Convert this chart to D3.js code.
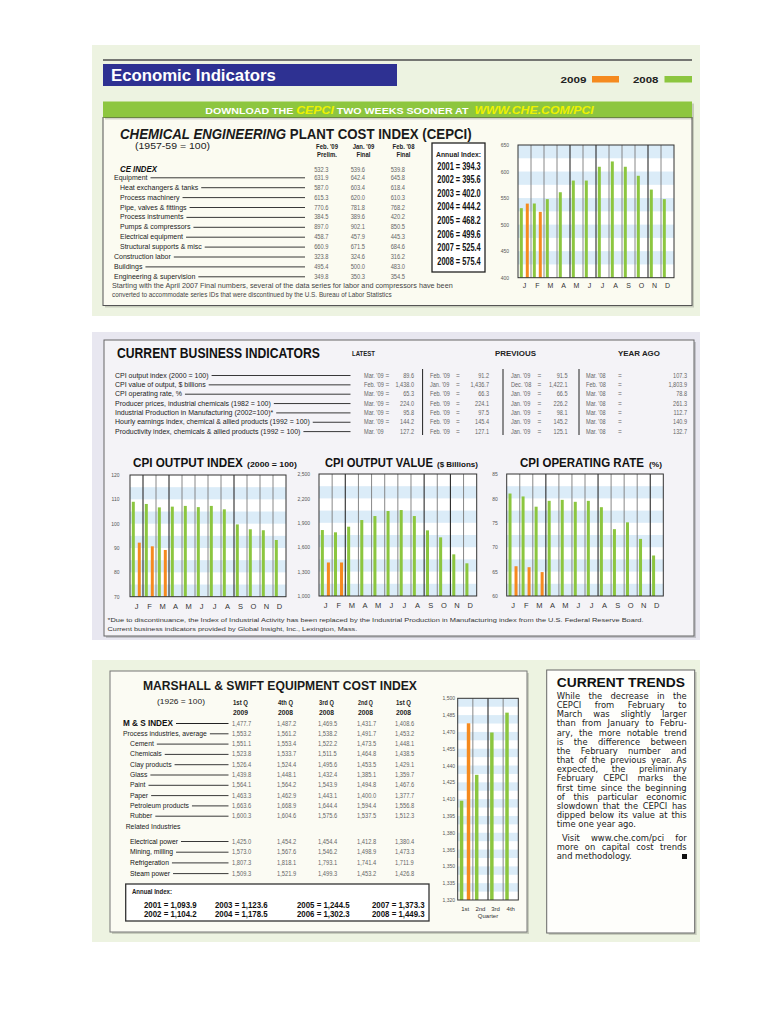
<!DOCTYPE html>
<html><head><meta charset="utf-8">
<script src="https://cdn.jsdelivr.net/npm/d3@7/dist/d3.min.js"></script>
<style>html,body{margin:0;padding:0;background:#fff}svg{display:block}text{white-space:pre}</style>
</head><body>
<svg id="chart" width="768" height="1024"></svg>
<script>
// ================= DATA =================
const months = ["J","F","M","A","M","J","J","A","S","O","N","D"];
const quarters = ["1st","2nd","3rd","4th"];

// CEPCI monthly chart
const cepci2008 = [531, 539.8, 548, 561, 583, 583, 609, 619, 609, 592, 566, 548];
const cepci2009 = [539.6, 524];
const cepciTicks = [400, 450, 500, 550, 600, 650];

// CPI output index
const cpiIndex2008 = [109, 108.1, 106.7, 107, 107.3, 106.8, 107.3, 105.9, 99.7, 97.7, 97.3, 93.3];
const cpiIndex2009 = [92.2, 90.7, 89.2];
const cpiIndexTicks = [70, 80, 90, 100, 110, 120];

// CPI output value ($ billions)
const cpiValue2008 = [1811, 1783, 1852, 1934, 1983, 2045, 2057, 1983, 1807, 1721, 1512, 1402];
const cpiValue2009 = [1412, 1412];
const cpiValueTicks = [1000, 1300, 1600, 1900, 2200, 2500];

// CPI operating rate (%)
const cpiRate2008 = [81.0, 80.4, 78.3, 79.5, 79.7, 79.3, 79.5, 78.2, 73.7, 75.1, 71.7, 68.3];
const cpiRate2009 = [66.1, 65.9, 64.9];
const cpiRateTicks = [60, 65, 70, 75, 80, 85];

// Marshall & Swift quarterly chart
const ms2008 = [1408.6, 1431.7, 1469.5, 1487.2];
const ms2009 = [1477.7];
const msTicks = [1320, 1335, 1350, 1365, 1380, 1395, 1410, 1425, 1440, 1455, 1470, 1485, 1500];

// CEPCI table
const cepciRows = ["CE INDEX","Equipment","Heat exchangers & tanks","Process machinery","Pipe, valves & fittings","Process instruments","Pumps & compressors","Electrical equipment","Structural supports & misc","Construction labor","Buildings","Engineering & supervision"];
const cepciIndent = [1,0,1,1,1,1,1,1,1,0,0,0];
const cepciFeb09 = ["532.3","631.9","587.0","615.3","770.6","384.5","897.0","458.7","660.9","323.8","495.4","349.8"];
const cepciJan09 = ["539.6","642.4","603.4","620.0","781.8","389.6","902.1","457.9","671.5","324.6","500.0","350.3"];
const cepciFeb08 = ["539.8","645.8","618.4","610.3","768.2","420.2","850.5","445.3","684.6","316.2","483.0","354.5"];
const cepciHead1 = ["Feb. '09","Jan. '09","Feb. '08"];
const cepciHead2 = ["Prelim.","Final","Final"];
const cepciAnnual = ["2001 = 394.3","2002 = 395.6","2003 = 402.0","2004 = 444.2","2005 = 468.2","2006 = 499.6","2007 = 525.4","2008 = 575.4"];

// Current business indicators
const cbiLabels = ["CPI output index (2000 = 100)","CPI value of output, $ billions","CPI operating rate, %","Producer prices, industrial chemicals (1982 = 100)","Industrial Production in Manufacturing (2002=100)*","Hourly earnings index, chemical & allied products (1992 = 100)","Productivity index, chemicals & allied products (1992 = 100)"];
const cbiLatestDate = ["Mar. '09","Feb. '09","Mar. '09","Mar. '09","Mar. '09","Mar. '09","Mar. '09"];
const cbiLatestVal = ["89.6","1,438.0","65.3","224.0","95.8","144.2","127.2"];
const cbiPrev1Date = ["Feb. '09","Jan. '09","Feb. '09","Feb. '09","Feb. '09","Feb. '09","Feb. '09"];
const cbiPrev1Val = ["91.2","1,436.7","66.3","224.1","97.5","145.4","127.1"];
const cbiPrev2Date = ["Jan. '09","Dec. '08","Jan. '09","Jan. '09","Jan. '09","Jan. '09","Jan. '09"];
const cbiPrev2Val = ["91.5","1,422.1","66.5","226.2","98.1","145.2","125.1"];
const cbiYearDate = ["Mar. '08","Feb. '08","Mar. '08","Mar. '08","Mar. '08","Mar. '08","Mar. '08"];
const cbiYearVal = ["107.3","1,803.9","78.8","261.3","112.7","140.9","132.7"];

// Marshall & Swift table
const msHead1 = ["1st Q","4th Q","3rd Q","2nd Q","1st Q"];
const msHead2 = ["2009","2008","2008","2008","2008"];
const msRows = ["M & S INDEX","Process industries, average","Cement","Chemicals","Clay products","Glass","Paint","Paper","Petroleum products","Rubber"];
const msIndent = [0,0,1,1,1,1,1,1,1,1];
const msValues = [
  ["1,477.7","1,487.2","1,469.5","1,431.7","1,408.6"],
  ["1,553.2","1,561.2","1,538.2","1,491.7","1,453.2"],
  ["1,551.1","1,553.4","1,522.2","1,473.5","1,448.1"],
  ["1,523.8","1,533.7","1,511.5","1,464.8","1,438.5"],
  ["1,526.4","1,524.4","1,495.6","1,453.5","1,429.1"],
  ["1,439.8","1,448.1","1,432.4","1,385.1","1,359.7"],
  ["1,564.1","1,564.2","1,543.9","1,494.8","1,467.6"],
  ["1,463.3","1,462.9","1,443.1","1,400.0","1,377.7"],
  ["1,663.6","1,668.9","1,644.4","1,594.4","1,556.8"],
  ["1,600.3","1,604.6","1,575.6","1,537.5","1,512.3"]
];
const msRelRows = ["Electrical power","Mining, milling","Refrigeration","Steam power"];
const msRelValues = [
  ["1,425.0","1,454.2","1,454.4","1,412.8","1,380.4"],
  ["1,573.0","1,567.6","1,546.2","1,498.9","1,473.3"],
  ["1,807.3","1,818.1","1,793.1","1,741.4","1,711.9"],
  ["1,509.3","1,521.9","1,499.3","1,453.2","1,426.8"]
];
const msAnnual = [["2001 = 1,093.9","2003 = 1,123.6","2005 = 1,244.5","2007 = 1,373.3"],["2002 = 1,104.2","2004 = 1,178.5","2006 = 1,302.3","2008 = 1,449.3"]];

// Current trends text
const trendsPara1 = ["While the decrease in the","CEPCI from February to","March was slightly larger","than from January to Febru-","ary, the more notable trend","is the difference between","the February number and","that of the previous year. As","expected, the preliminary","February CEPCI marks the","first time since the beginning","of this particular economic","slowdown that the CEPCI has","dipped below its value at this","time one year ago."];
const trendsPara2 = ["Visit www.che.com/pci for","more on capital cost trends","and methodology."];

// ================= DRAWING =================
const svg = d3.select("#chart");
const FONT = "'Liberation Sans', Arial, Helvetica, sans-serif";
const FONT2 = "'DejaVu Sans', 'Liberation Sans', sans-serif";
const GREEN = "#8cc63f", ORANGE = "#f58a1f", STRIPE = "#dbecf8";

function box(g,x,y,w,h,fill,stroke,sw){
  const r=g.append("rect").attr("x",x).attr("y",y).attr("width",w).attr("height",h).attr("fill",fill||"none");
  if(stroke) r.attr("stroke",stroke).attr("stroke-width",sw||1);
  return r;
}
function line(g,x1,y1,x2,y2,stroke,sw){
  return g.append("line").attr("x1",x1).attr("y1",y1).attr("x2",x2).attr("y2",y2).attr("stroke",stroke||"#222").attr("stroke-width",sw||1);
}
// text placed in its own group; horizontal squeeze done with a scale transform
function T(g,x,y,s,o={}){
  const gg=g.append("g").attr("transform",`translate(${x},${y})`);
  const t=gg.append("text").attr("x",0).attr("y",0).text(s)
    .attr("font-family",o.ff||FONT).attr("font-size",o.fs||7)
    .attr("font-weight",o.fw||"normal").attr("fill",o.fill||"#222")
    .attr("text-anchor",o.anchor||"start");
  if(o.it) t.attr("font-style","italic");
  if(o.len||o.sq){
    const L=t.node().getComputedTextLength();
    const sx=o.len?o.len/L:o.sq;
    gg.attr("transform",`translate(${x},${y}) scale(${sx},1)`);
  }
  return t;
}
function R(g,x,y,parts,o={}){
  const gg=g.append("g").attr("transform",`translate(${x},${y})`);
  const t=gg.append("text").attr("x",0).attr("y",0).attr("font-family",FONT)
    .attr("text-anchor",o.anchor||"start").attr("font-weight",o.fw||"bold")
    .attr("font-size",o.fs||9).attr("fill",o.fill||"#222");
  parts.forEach(([s,p])=>{const ts=t.append("tspan").text(s);
    if(p){ if(p.fs) ts.attr("font-size",p.fs); if(p.fill) ts.attr("fill",p.fill); if(p.it) ts.attr("font-style","italic"); if(p.fw) ts.attr("font-weight",p.fw);} });
  if(o.len){
    const L=t.node().getComputedTextLength();
    gg.attr("transform",`translate(${x},${y}) scale(${o.len/L},1)`);
  }
  return t;
}
function justify(g,x,y,s,width,o){
  const t=T(g,x,y,s,o);
  if(width){
    const L=t.node().getComputedTextLength();
    const n=(s.match(/ /g)||[]).length;
    if(n>0 && L<width) t.attr("word-spacing",(width-L)/n);
    else if(L>width) d3.select(t.node().parentNode).attr("transform",`translate(${x},${y}) scale(${width/L},1)`);
  }
  return t;
}
function shadowBox(g,x,y,w,h,fill,stroke){
  box(g,x+2,y+2,w,h,"rgba(0,0,0,0.16)");
  return box(g,x,y,w,h,fill,stroke,1);
}

function barChart(g,o){
  const n=o.cats.length;
  const x=d3.scaleBand().domain(d3.range(n)).range([o.x0,o.x1]);
  const lo=o.ticks[0], hi=o.ticks[o.ticks.length-1];
  const y=d3.scaleLinear().domain([lo,hi]).range([o.y1,o.y0]);
  box(g,o.x0,o.y0,o.x1-o.x0,o.y1-o.y0,"#fff");
  const bands=[];
  for(let i=0;i<o.ticks.length-1;i++){const a=o.ticks[i],b=o.ticks[i+1],m=(a+b)/2;bands.push(o.upper?[m,b]:[a,m]);}
  g.selectAll(null).data(bands).join("rect").attr("x",o.x0).attr("width",o.x1-o.x0)
    .attr("y",d=>y(d[1])).attr("height",d=>y(d[0])-y(d[1])).attr("fill",STRIPE);
  g.selectAll(null).data(d3.range(1,n)).join("line")
    .attr("x1",i=>x(i)).attr("x2",i=>x(i)).attr("y1",o.y0).attr("y2",o.y1)
    .attr("stroke",i=>o.dark.includes(i)?"#2a2a2a":"#7a7a7a").attr("stroke-width",i=>o.dark.includes(i)?1.1:0.9);
  const bw=x.bandwidth();
  g.selectAll(null).data(o.s08).join("rect")
    .attr("x",(d,i)=>x(i)+bw*0.14).attr("width",bw*0.23)
    .attr("y",d=>y(d)).attr("height",d=>y(lo)-y(d)).attr("fill",GREEN);
  g.selectAll(null).data(o.s09).join("rect")
    .attr("x",(d,i)=>x(i)+bw*0.6).attr("width",bw*0.23)
    .attr("y",d=>y(d)).attr("height",d=>y(lo)-y(d)).attr("fill",ORANGE);
  box(g,o.x0,o.y0,o.x1-o.x0,o.y1-o.y0,"none","#333",1);
  const ya=g.append("g").attr("transform",`translate(${o.x0},0)`)
    .call(d3.axisLeft(y).tickValues(o.ticks).tickSize(0).tickPadding(o.tp));
  ya.select(".domain").remove();
  ya.selectAll("text").attr("font-size",o.yfs||5).attr("font-family",FONT).attr("fill","#555");
  const xa=g.append("g").attr("transform",`translate(0,${o.y1})`)
    .call(d3.axisBottom(x).tickFormat(i=>o.cats[i]).tickSize(0).tickPadding(o.xp));
  xa.select(".domain").remove();
  xa.selectAll("text").attr("font-size",o.xfs).attr("font-family",FONT).attr("fill","#333");
  return {x,y};
}

// ---------- TOP PANEL ----------
const gTop=svg.append("g");
box(gTop,92,45,608,271,"#edf3e1");
line(gTop,103,60,692,60,"#4d4d4d",1.5);
box(gTop,103,64,294,22,"#2e3192");
T(gTop,111,81,"Economic Indicators",{fs:16,fw:"bold",fill:"#fff",len:165});
T(gTop,560.5,82.5,"2009",{fs:9.5,fw:"bold",len:26});
box(gTop,592,76,27,6.5,ORANGE);
T(gTop,633,82.5,"2008",{fs:9.5,fw:"bold",len:25.5});
box(gTop,664.5,76,27.5,6.5,GREEN);

shadowBox(gTop,103,117.5,589,188,"#fbfbf1","#555");
box(gTop,105,103.5,589,16,"rgba(0,0,0,0.16)");
box(gTop,103,101.5,589,16,"#8dc63f");
R(gTop,399.5,113.5,[["DOWNLOAD THE "],["CEPCI",{fill:"#eef200",it:1,fs:11}],[" TWO WEEKS SOONER AT  "],["WWW.CHE.COM/PCI",{fill:"#eef200",it:1,fs:11}]],{anchor:"middle",fs:9.5,fill:"#fff",len:389});

R(gTop,120,138.5,[["CHEMICAL ENGINEERING",{it:1}],[" PLANT COST INDEX (CEPCI)"]],{fs:14,fill:"#1a1a1a",len:352});
T(gTop,135,148.5,"(1957-59 = 100)",{fs:8.5,len:75});
const cepciColC=[327,363.5,403.5], cepciColR=[328.5,365,405];
cepciHead1.forEach((h,i)=>{
  T(gTop,cepciColC[i],148.5,h,{fs:7,fw:"bold",anchor:"middle",sq:0.85});
  T(gTop,cepciColC[i],157,cepciHead2[i],{fs:7,fw:"bold",anchor:"middle",sq:0.85});
});
cepciRows.forEach((r,i)=>{
  const by = i===0 ? 171.5 : 179.8+9.9*(i-1);
  const lx = cepciIndent[i] ? 120 : 114;
  if(i===0){ T(gTop,lx,by,r,{fs:9.5,fw:"bold",it:1,fill:"#111",len:37}); }
  else {
    const t=T(gTop,lx,by,r,{fs:7,fill:"#222"});
    const L=t.node().getComputedTextLength();
    line(gTop,lx+L+3,by-2,305,by-2,"#222",0.9);
  }
  T(gTop,cepciColR[0],by,cepciFeb09[i],{fs:7,fill:"#666",anchor:"end",sq:0.82});
  T(gTop,cepciColR[1],by,cepciJan09[i],{fs:7,fill:"#666",anchor:"end",sq:0.82});
  T(gTop,cepciColR[2],by,cepciFeb08[i],{fs:7,fill:"#666",anchor:"end",sq:0.82});
});
box(gTop,432,143,53,129,"#fff","#222",1.3);
T(gTop,458.5,157,"Annual Index:",{fs:8,fw:"bold",anchor:"middle",len:45});
cepciAnnual.forEach((a,i)=>T(gTop,459,169.5+13.6*i,a,{fs:10,fw:"bold",anchor:"middle",len:43.5,fill:"#111"}));
T(gTop,112,287.5,"Starting with the April 2007 Final numbers, several of the data series for labor and compressors have been",{fs:6.5,fill:"#444",len:341});
T(gTop,112,296.5,"converted to accommodate series IDs that were discontinued by the U.S. Bureau of Labor Statistics",{fs:6.5,fill:"#444",len:280});

barChart(gTop,{cats:months,s08:cepci2008,s09:cepci2009,ticks:cepciTicks,x0:518,x1:674,y0:145,y1:277.7,upper:true,dark:[4,6,10],tp:9,xp:5.5,xfs:7});

// ---------- MIDDLE PANEL ----------
const gMid=svg.append("g");
box(gMid,92,332,608,308,"#e8e7f0");
shadowBox(gMid,104,340,590,296,"#f4f3f7","#666");
T(gMid,117,357.5,"CURRENT BUSINESS INDICATORS",{fs:14,fw:"bold",fill:"#111",len:203});
T(gMid,352,356,"LATEST",{fs:8,fw:"bold",len:23});
T(gMid,495,356,"PREVIOUS",{fs:8,fw:"bold",len:41});
T(gMid,618,356,"YEAR AGO",{fs:8,fw:"bold",len:42});
const cbiCols=[[364,387.5,414,cbiLatestDate,cbiLatestVal],[430,458,489,cbiPrev1Date,cbiPrev1Val],[511,539.5,567.5,cbiPrev2Date,cbiPrev2Val],[586,620,687,cbiYearDate,cbiYearVal]];
cbiLabels.forEach((lab,i)=>{
  const by=377.5+9.35*i;
  const t=T(gMid,115,by,lab,{fs:7,fill:"#222"});
  const L=t.node().getComputedTextLength();
  line(gMid,115+L+3,by-2,350.5,by-2,"#222",0.9);
  cbiCols.forEach(([dx,ex,vx,dates,vals],c)=>{
    T(gMid,dx,by,dates[i],{fs:6.8,fill:"#666",sq:0.82});
    if(!(c===0&&i===6)) T(gMid,ex,by,"=",{fs:6.5,fill:"#666",anchor:"middle"});
    T(gMid,vx,by,vals[i],{fs:6.8,fill:"#666",anchor:"end",sq:0.82});
  });
});
[422.6,503,579].forEach(x=>line(gMid,x,369,x,435,"#222",1));

R(gMid,133,467,[["CPI OUTPUT INDEX"]],{fs:13.5,fill:"#111",len:110});
T(gMid,247,467,"(2000 = 100)",{fs:8,fw:"bold",len:50,fill:"#111"});
R(gMid,325,467,[["CPI OUTPUT VALUE"]],{fs:13.5,fill:"#111",len:108});
T(gMid,437,467,"($ Billions)",{fs:7.5,fw:"bold",len:41,fill:"#111"});
R(gMid,520,467,[["CPI OPERATING RATE"]],{fs:13.5,fill:"#111",len:124});
T(gMid,649,467,"(%)",{fs:8,fw:"bold",len:13,fill:"#111"});

barChart(gMid,{cats:months,s08:cpiIndex2008,s09:cpiIndex2009,ticks:cpiIndexTicks,x0:130,x1:286,y0:475,y1:596.7,upper:false,dark:[1,3,8],tp:10.5,xp:6.5,xfs:7.5});
barChart(gMid,{cats:months,s08:cpiValue2008,s09:cpiValue2009,ticks:cpiValueTicks,x0:319,x1:476.7,y0:474,y1:596,upper:false,dark:[2,8,10],tp:9,xp:7,xfs:7.5});
barChart(gMid,{cats:months,s08:cpiRate2008,s09:cpiRate2009,ticks:cpiRateTicks,x0:506.7,x1:663.3,y0:474,y1:596,upper:false,dark:[3,7,11],tp:9,xp:7,xfs:7.5});

T(gMid,107.6,622,"*Due to discontinuance, the Index of Industrial Activity has been replaced by the Industrial Production in Manufacturing index from the U.S. Federal Reserve Board.",{fs:6,fill:"#333",len:537});
T(gMid,107.6,631,"Current business indicators provided by Global Insight, Inc., Lexington, Mass.",{fs:6,fill:"#333",len:250});

// ---------- BOTTOM PANEL ----------
const gBot=svg.append("g");
box(gBot,92,660,608,282,"#edf3e1");
shadowBox(gBot,110,671,417,261,"#fbfbf3","#777");
shadowBox(gBot,546.7,670,148,263,"#fefefb","#666");

T(gBot,143,690,"MARSHALL & SWIFT EQUIPMENT COST INDEX",{fs:13.5,fw:"bold",fill:"#1a1a1a",len:274});
T(gBot,157,704,"(1926 = 100)",{fs:8,len:48});
const msColX=[232,277,318,357,395];
msHead1.forEach((h,i)=>{
  T(gBot,msColX[i]+1,704.5,h,{fs:8,fw:"bold",len:15});
  T(gBot,msColX[i]+1,714.5,msHead2[i],{fs:8,fw:"bold",len:15});
});
msRows.forEach((r,i)=>{
  const by=725.5+10.3*i;
  let lx;
  if(i===0){ T(gBot,123,by+0.5,r,{fs:9,fw:"bold",fill:"#111",len:50}); lx=173; }
  else { const x0=msIndent[i]?130:123; const t=T(gBot,x0,by,r,{fs:6.8,fill:"#222"}); lx=x0+t.node().getComputedTextLength(); }
  line(gBot,lx+3,by-2,228.5,by-2,"#222",i===0?1.2:0.9);
  msValues[i].forEach((v,c)=>T(gBot,msColX[c],by,v,{fs:7,fill:"#666",sq:0.82}));
});
T(gBot,125.7,829,"Related Industries",{fs:6.8,fill:"#222"});
msRelRows.forEach((r,i)=>{
  const by=843.5+10.7*i;
  const t=T(gBot,130,by,r,{fs:6.8,fill:"#111"});
  line(gBot,130+t.node().getComputedTextLength()+3,by-2,228.5,by-2,"#222",0.9);
  msRelValues[i].forEach((v,c)=>T(gBot,msColX[c],by,v,{fs:7,fill:"#666",sq:0.82}));
});
box(gBot,125.7,884,303.3,37,"#fff","#333",1.3);
T(gBot,132,894,"Annual Index:",{fs:7.5,fw:"bold",len:40});
const msAnnX=[144,215,297,372];
msAnnual.forEach((row,r)=>row.forEach((a,c)=>T(gBot,msAnnX[c],907.5+9.5*r,a,{fs:9.5,fw:"bold",fill:"#111",len:52.7})));

barChart(gBot,{cats:quarters,s08:ms2008,s09:ms2009,ticks:msTicks,x0:457.7,x1:518.3,y0:698.3,y1:900,upper:true,dark:[2],tp:2.7,xp:6.5,xfs:6});
T(gBot,488,918,"Quarter",{fs:6,fill:"#333",anchor:"middle"});

T(gBot,556.7,686.5,"CURRENT TRENDS",{fs:12.5,fw:"bold",fill:"#111",len:128.3});
trendsPara1.forEach((s,i)=>{
  const last=i===trendsPara1.length-1;
  justify(gBot,556.7,699+9.15*i,s,last?null:130,{fs:8.4,ff:FONT2,fill:"#1a1a1a"});
});
trendsPara2.forEach((s,i)=>{
  const last=i===trendsPara2.length-1;
  const x0=i===0?562:556.7;
  justify(gBot,x0,841+9.2*i,s,last?null:(686.7-x0),{fs:8.4,ff:FONT2,fill:"#1a1a1a"});
});
box(gBot,682,854,5,5,"#111");
</script>
</body></html>
